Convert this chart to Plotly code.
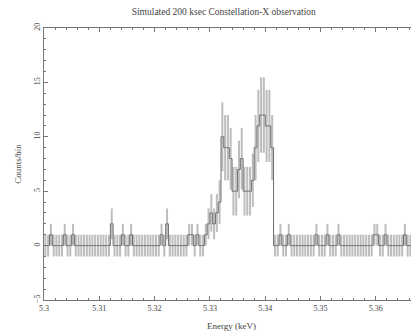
import numpy as np
import plotly.graph_objects as go

# Energy grid (keV) of the simulated spectrum bins
e_start = 5.300
bin_width = 0.0005
counts = [
    0, 0, 1, 0, 0, 0, 0, 1, 0, 0, 1, 0, 0, 0, 0, 0, 0, 0, 0, 0,
    0, 0, 0, 0, 2, 0, 0, 0, 1, 0, 0, 1, 0, 0, 0, 0, 0, 0, 0, 0,
    0, 0, 1, 0, 2, 0, 0, 0, 0, 0, 0, 0, 1, 1, 0, 1, 0, 0, 1, 2,
    3, 2, 3, 4, 10, 9, 9, 8, 5, 5, 7, 8, 5, 5, 5, 6, 9, 11, 12, 12,
    11, 11, 9, 0, 0, 1, 0, 0, 1, 0, 0, 0, 0, 0, 0, 0, 0, 0, 1, 0,
    0, 0, 1, 0, 0, 0, 1, 0, 0, 0, 0, 0, 0, 0, 0, 0, 0, 0, 0, 1,
    1, 0, 0, 1, 0, 0, 0, 0, 0, 0, 1, 0, 0, 0, 1, 0,
]
x_ticks = [5.30, 5.31, 5.32, 5.33, 5.34, 5.35, 5.36]
x_tick_labels = ["5.3", "5.31", "5.32", "5.33", "5.34", "5.35", "5.36"]
y_ticks = [-5, 0, 5, 10, 15, 20]
y_tick_labels = ["−5", "0", "5", "10", "15", "20"]

energy = e_start + bin_width * (np.arange(len(counts)) + 0.5)
errors = np.sqrt(np.maximum(np.array(counts, dtype=float), 1.0))

FONT = "Liberation Serif"
TXT = "#444444"
AX = "#777777"

fig = go.Figure()
fig.add_trace(go.Scatter(
    x=energy, y=counts, mode="lines",
    line=dict(color="#6e6e6e", width=1, shape="hvh"),
    error_y=dict(type="data", array=errors, visible=True,
                 color="#bdbdbd", thickness=2, width=0),
    showlegend=False, hoverinfo="skip",
))

# page body has an 8px default margin: figure sized to fill the rest
fig.update_layout(
    width=411, height=323,
    margin=dict(l=36, r=0, t=20, b=31),
    paper_bgcolor="white", plot_bgcolor="white",
    title=dict(text="Simulated 200 ksec Constellation-X observation",
               x=0.525, xanchor="center", y=0.988, yanchor="middle",
               font=dict(family=FONT, size=9.5, color=TXT)),
    font=dict(family=FONT, size=8, color=TXT),
)
fig.update_xaxes(
    range=[5.3, 5.3678], showgrid=False, zeroline=False, automargin=False,
    showline=True, linecolor=AX, linewidth=1, mirror="ticks",
    ticks="inside", ticklen=4, tickcolor=AX,
    tickvals=x_ticks, ticktext=x_tick_labels,
    minor=dict(ticks="inside", ticklen=2, dtick=0.002, tickcolor=AX, showgrid=False),
    tickfont=dict(family=FONT, size=8, color=TXT),
    title=dict(text="Energy (keV)", font=dict(family=FONT, size=9, color=TXT), standoff=11),
)
fig.update_yaxes(
    range=[-5, 20], showgrid=False, zeroline=False, automargin=False,
    showline=True, linecolor=AX, linewidth=1, mirror=False,
    ticks="inside", ticklen=4, tickcolor=AX,
    tickvals=y_ticks, ticktext=y_tick_labels, tickangle=-90,
    minor=dict(ticks="inside", ticklen=2, dtick=1, tickcolor=AX, showgrid=False),
    tickfont=dict(family=FONT, size=8, color=TXT),
    title=dict(text="Counts/bin", font=dict(family=FONT, size=9, color=TXT), standoff=9),
)

fig.write_html("out.html")
